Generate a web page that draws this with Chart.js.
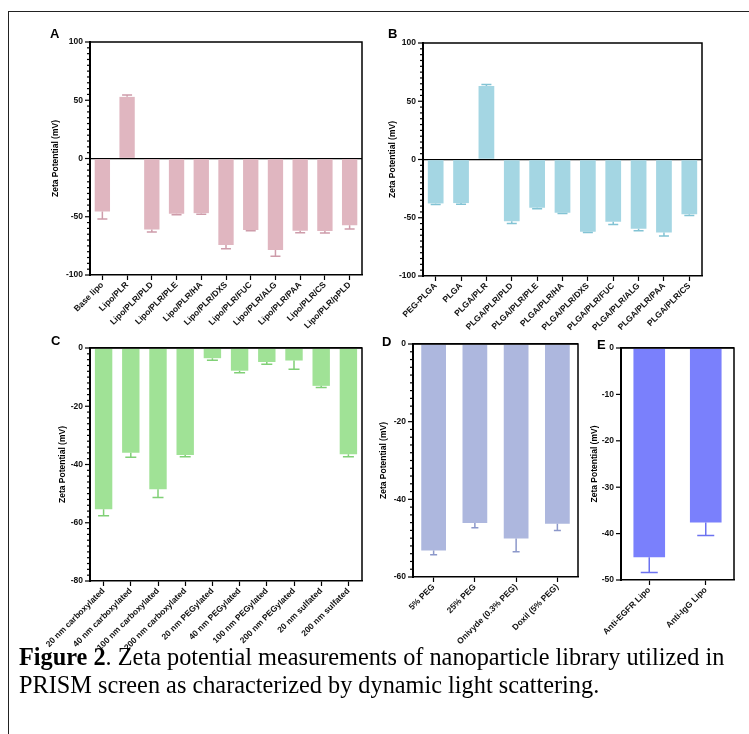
<!DOCTYPE html>
<html>
<head>
<meta charset="utf-8">
<script src="https://cdn.jsdelivr.net/npm/chart.js@4"></script>
<style>
  body { margin: 0; width: 749px; height: 734px; background: #fff; position: relative; overflow: hidden; }
  .frame { position: absolute; left: 8px; top: 11px; width: 760px; height: 740px; border-left: 1.5px solid #222; border-top: 1.5px solid #222; }
  .box { position: absolute; }
  .lbl { position: absolute; font: bold 13px "Liberation Sans", Arial, sans-serif; color: #000; }
  .cap { position: absolute; left: 19px; top: 643px; font: 24.3px "Liberation Serif", "Times New Roman", serif; line-height: 28px; white-space: nowrap; color: #000; }
</style>
</head>
<body>
<div class="frame"></div>
<div class="box" style="left:40px;top:25px;width:332px;height:325px"><canvas id="chartA"></canvas></div>
<div class="box" style="left:380px;top:25px;width:332px;height:325px"><canvas id="chartB"></canvas></div>
<div class="box" style="left:40px;top:330px;width:332px;height:320px"><canvas id="chartC"></canvas></div>
<div class="box" style="left:370px;top:330px;width:215px;height:320px"><canvas id="chartD"></canvas></div>
<div class="box" style="left:585px;top:330px;width:160px;height:320px"><canvas id="chartE"></canvas></div>
<div class="lbl" style="left:50px;top:26px">A</div>
<div class="lbl" style="left:388px;top:26px">B</div>
<div class="lbl" style="left:51px;top:333px">C</div>
<div class="lbl" style="left:382px;top:334px">D</div>
<div class="lbl" style="left:597px;top:337px">E</div>
<div class="cap"><b>Figure 2</b>. Zeta potential measurements of nanoparticle library utilized in<br>PRISM screen as characterized by dynamic light scattering.</div>
<script>
// panel A - lipo library
var catsA = ['Base lipo', 'Lipo/PLR', 'Lipo/PLR/PLD', 'Lipo/PLR/PLE', 'Lipo/PLR/HA', 'Lipo/PLR/DXS',
  'Lipo/PLR/FUC', 'Lipo/PLR/ALG', 'Lipo/PLR/PAA', 'Lipo/PLR/CS', 'Lipo/PLR/pPLD'];
var valsA = [-45.4, 52.9, -61, -47.4, -46.9, -74.3, -61.4, -78.6, -62, -62.3, -57.4];
var sdA = [6.6, 1.7, 2, 0.9, 0.9, 3.1, 0.6, 5.4, 1.7, 1.7, 3.2];

// panel B - PLGA library
var catsB = ['PEG-PLGA', 'PLGA', 'PLGA/PLR', 'PLGA/PLR/PLD', 'PLGA/PLR/PLE', 'PLGA/PLR/HA', 'PLGA/PLR/DXS',
  'PLGA/PLR/FUC', 'PLGA/PLR/ALG', 'PLGA/PLR/PAA', 'PLGA/PLR/CS'];
var valsB = [-37.7, -37.4, 63.1, -52.9, -41.4, -45.7, -62, -53.4, -59.4, -62.6, -47.1];
var sdB = [0.9, 1.1, 1.2, 2, 0.9, 0.6, 0.6, 2.3, 1.7, 3.1, 0.9];

// panel C - polystyrene
var catsC = ['20 nm carboxylated', '40 nm carboxylated', '100 nm carboxylated', '200 nm carboxylated',
  '20 nm PEGylated', '40 nm PEGylated', '100 nm PEGylated', '200 nm PEGylated', '20 nm sulfated', '200 nm sulfated'];
var valsC = [-55.4, -36, -48.5, -36.7, -3.5, -7.8, -4.8, -4.3, -13, -36.5];
var sdC = [2.2, 1.5, 2.8, 0.6, 0.7, 0.7, 0.8, 3, 0.6, 0.8];

// panel D - PEG lipos
var catsD = ['5% PEG', '25% PEG', 'Onivyde (0.3% PEG)', 'Doxil (5% PEG)'];
var valsD = [-53.2, -46.1, -50.1, -46.3];
var sdD = [1.1, 1.2, 3.4, 1.7];

// panel E - antibody lipos
var catsE = ['Anti-EGFR Lipo', 'Anti-IgG Lipo'];
var valsE = [-45.1, -37.6];
var sdE = [3.3, 2.8];

var tickFont = { family: 'Liberation Sans', size: 8.5, weight: 'bold' };

// box around plot + major/minor y ticks
var framePlugin = {
  id: 'frame',
  afterDraw: function (chart, args, o) {
    var ctx = chart.ctx, a = chart.chartArea, y = chart.scales.y;
    ctx.save();
    ctx.strokeStyle = '#000';
    ctx.lineWidth = 1.5;
    ctx.beginPath();
    ctx.moveTo(a.left, a.top); ctx.lineTo(a.right, a.top); ctx.lineTo(a.right, a.bottom);
    ctx.stroke();
    ctx.lineWidth = 2;
    ctx.beginPath(); ctx.moveTo(a.left, a.top - 1); ctx.lineTo(a.left, a.bottom + 1); ctx.stroke();
    ctx.lineWidth = 1.2;
    for (var v = y.min; v <= y.max + 1e-6; v += o.minor) {
      var p = y.getPixelForValue(v);
      var isMajor = Math.abs(v / o.major - Math.round(v / o.major)) < 1e-6;
      ctx.beginPath();
      ctx.moveTo(a.left, p);
      ctx.lineTo(a.left - (isMajor ? 5 : 3), p);
      ctx.stroke();
    }
    ctx.restore();
  }
};

// one-sided SD bars
var errPlugin = {
  id: 'errbars',
  afterDatasetsDraw: function (chart, args, o) {
    var ctx = chart.ctx, y = chart.scales.y;
    var meta = chart.getDatasetMeta(0);
    var vals = chart.data.datasets[0].data;
    ctx.save();
    ctx.strokeStyle = o.color;
    ctx.lineWidth = 1.5;
    meta.data.forEach(function (bar, i) {
      var v = vals[i], s = o.sd[i];
      var end = v < 0 ? v - s : v + s;
      var y0 = y.getPixelForValue(v), y1 = y.getPixelForValue(end);
      ctx.beginPath();
      ctx.moveTo(bar.x, y0); ctx.lineTo(bar.x, y1);
      ctx.moveTo(bar.x - o.cap / 2, y1); ctx.lineTo(bar.x + o.cap / 2, y1);
      ctx.stroke();
    });
    ctx.restore();
  }
};

function makePanel(id, rect, area, titleX, cats, vals, sd, color, errColor, yMin, yMax, major, minor, barPct, cap) {
  var yW = area.left - rect.left;
  var xH = rect.bottom - area.bottom;
  return new Chart(document.getElementById(id), {
    type: 'bar',
    data: {
      labels: cats,
      datasets: [{
        data: vals,
        backgroundColor: color,
        borderWidth: 0,
        barPercentage: barPct,
        categoryPercentage: 1
      }]
    },
    options: {
      responsive: true,
      maintainAspectRatio: false,
      animation: false,
      layout: { padding: { left: 0, top: area.top - rect.top, right: rect.right - area.right, bottom: 0 } },
      plugins: {
        legend: { display: false },
        tooltip: { enabled: false },
        frame: { major: major, minor: minor },
        errbars: { sd: sd, color: errColor, cap: cap }
      },
      scales: {
        x: {
          grid: { display: true, drawOnChartArea: false, offset: false, tickLength: 5, tickColor: '#000', tickWidth: 1.2 },
          border: { display: true, color: '#000', width: 1.5 },
          ticks: { font: tickFont, color: '#111', maxRotation: 45, minRotation: 45, autoSkip: false, padding: 0 },
          afterFit: function (s) { s.height = xH; s.paddingLeft = 0; s.paddingRight = 0; }
        },
        y: {
          min: yMin,
          max: yMax,
          ticks: { stepSize: major, font: tickFont, color: '#111', padding: 7 },
          grid: {
            drawTicks: false,
            color: function (c) { return c.tick && c.tick.value === 0 ? '#000' : 'rgba(0,0,0,0)'; },
            lineWidth: 1.3
          },
          border: { display: false },
          title: {
            display: true,
            text: 'Zeta Potential (mV)',
            font: { family: 'Liberation Sans', size: 8.5, weight: 'bold' },
            color: '#000',
            padding: { top: titleX - rect.left - 5, bottom: 0 }
          },
          afterFit: function (s) { s.width = yW; s.paddingTop = 0; s.paddingBottom = 0; }
        }
      }
    },
    plugins: [framePlugin, errPlugin]
  });
}

makePanel('chartA', { left: 40, top: 25, right: 372, bottom: 350 }, { left: 90, top: 42, right: 362, bottom: 275 }, 56,
  catsA, valsA, sdA, 'rgb(224,182,192)', 'rgb(206,156,170)', -100, 100, 50, 5, 0.62, 10);
makePanel('chartB', { left: 380, top: 25, right: 712, bottom: 350 }, { left: 423, top: 43, right: 702, bottom: 276 }, 393,
  catsB, valsB, sdB, 'rgb(164,214,227)', 'rgb(130,195,212)', -100, 100, 50, 5, 0.62, 10);
makePanel('chartC', { left: 40, top: 330, right: 372, bottom: 650 }, { left: 90, top: 348, right: 362, bottom: 581 }, 63,
  catsC, valsC, sdC, 'rgb(160,226,150)', 'rgb(128,208,118)', -80, 0, 20, 2, 0.64, 11);
makePanel('chartD', { left: 370, top: 330, right: 585, bottom: 650 }, { left: 413, top: 344, right: 578, bottom: 577 }, 384,
  catsD, valsD, sdD, 'rgb(173,183,222)', 'rgb(140,152,202)', -60, 0, 20, 2, 0.6, 7);
makePanel('chartE', { left: 585, top: 330, right: 745, bottom: 650 }, { left: 621, top: 348, right: 734, bottom: 580 }, 595,
  catsE, valsE, sdE, 'rgb(122,128,252)', 'rgb(108,114,240)', -50, 0, 10, 10, 0.56, 17);
</script>
</body>
</html>
